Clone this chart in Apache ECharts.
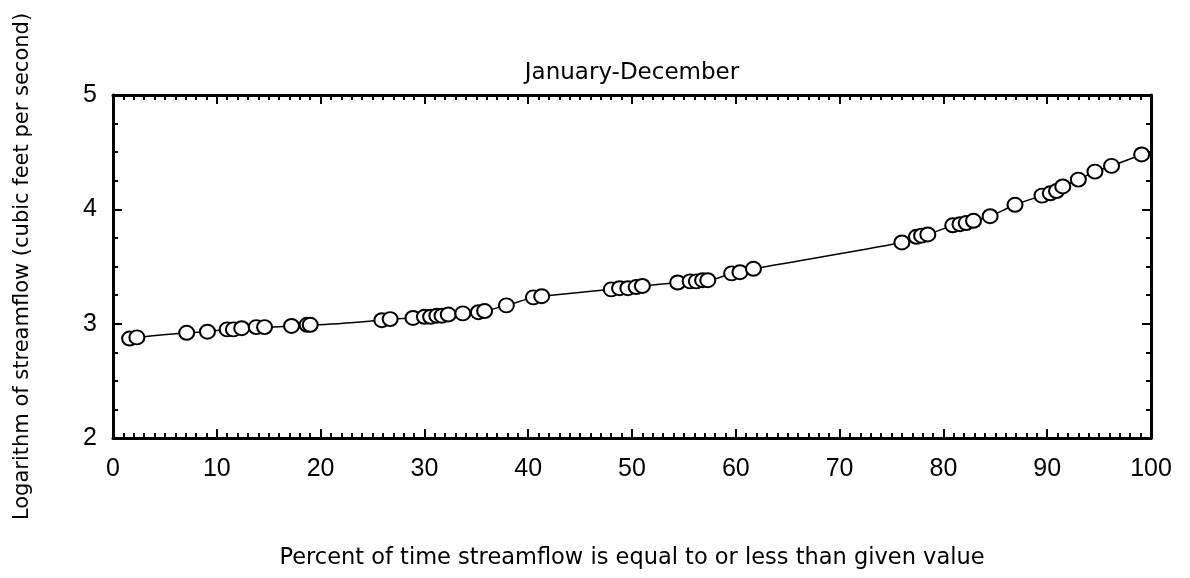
<!DOCTYPE html>
<html>
<head>
<meta charset="utf-8">
<script src="https://cdn.jsdelivr.net/npm/echarts@6/dist/echarts.min.js"></script>
<style>
html,body{margin:0;padding:0;background:#fff;}
#chart{width:1190px;height:578px;}
</style>
</head>
<body>
<div id="chart"></div>
<script>
const titleText = "January-December";
const xAxisName = "Percent of time streamflow is equal to or less than given value";
const yAxisName = "Logarithm of streamflow (cubic feet per second)";

const percentValues = [1.6, 2.3, 7.1, 9.1, 11.0, 11.6, 12.4, 13.8, 14.6, 17.2, 18.7, 19.0,
  25.9, 26.7, 28.9, 30.0, 30.6, 31.2, 31.7, 32.3, 33.7, 35.2, 35.8, 37.9, 40.5, 41.3,
  48.0, 48.8, 49.6, 50.4, 51.0, 54.4, 55.6, 56.2, 56.8, 57.3, 59.6, 60.4, 61.7,
  76.0, 77.4, 77.9, 78.5, 80.9, 81.6, 82.2, 82.9, 84.5, 86.9,
  89.5, 90.3, 90.9, 91.5, 93.0, 94.6, 96.2, 99.1];
const logFlowValues = [2.87, 2.88, 2.92, 2.93, 2.95, 2.95, 2.96, 2.97, 2.97, 2.98, 2.99, 2.99,
  3.03, 3.04, 3.05, 3.06, 3.06, 3.07, 3.07, 3.08, 3.09, 3.10, 3.11, 3.16, 3.23, 3.24,
  3.30, 3.31, 3.31, 3.32, 3.33, 3.36, 3.37, 3.37, 3.38, 3.38, 3.44, 3.45, 3.48,
  3.71, 3.76, 3.77, 3.78, 3.86, 3.87, 3.88, 3.90, 3.94, 4.04,
  4.12, 4.14, 4.16, 4.20, 4.26, 4.33, 4.38, 4.48];

const points = percentValues.map((p, i) => [p, logFlowValues[i]]);

const font = "'DejaVu Sans', 'Liberation Sans', Arial, sans-serif";
const numFont = "'Liberation Sans', Arial, sans-serif";
const axisLine = { show: true, onZero: false, lineStyle: { color: '#000', width: 3 } };
const axisTick = { show: true, inside: true, length: 9, lineStyle: { color: '#000', width: 2 } };

function xAx(pos, labels) {
  return {
    type: 'value', position: pos, min: 0, max: 100, interval: 10,
    axisLine, axisTick,
    minorTick: { show: true, splitNumber: 10, length: 5, lineStyle: { color: '#000', width: 2 } },
    splitLine: { show: false }, minorSplitLine: { show: false },
    axisLabel: { show: labels, color: '#000', fontSize: 25, fontFamily: numFont, margin: 19 },
    name: labels ? xAxisName : '', nameLocation: 'middle', nameGap: 109,
    nameTextStyle: { color: '#000', fontSize: 22.5, fontFamily: font }
  };
}
function yAx(pos, labels) {
  return {
    type: 'value', position: pos, min: 2, max: 5, interval: 1,
    axisLine, axisTick,
    minorTick: { show: true, splitNumber: 4, length: 5, lineStyle: { color: '#000', width: 2 } },
    splitLine: { show: false }, minorSplitLine: { show: false },
    axisLabel: { show: labels, color: '#000', fontSize: 25, fontFamily: numFont, margin: 16 },
    name: labels ? yAxisName : '', nameLocation: 'middle', nameGap: 80,
    nameTextStyle: { color: '#000', fontSize: 21, fontFamily: font }
  };
}

const chart = echarts.init(document.getElementById('chart'), null, { renderer: 'canvas' });
chart.setOption({
  animation: false,
  backgroundColor: '#fff',
  title: {
    text: titleText, left: 627, top: 57, textAlign: 'center',
    textStyle: { color: '#000', fontSize: 23, fontWeight: 'normal', fontFamily: font }
  },
  grid: { left: 113, right: 39, top: 95, bottom: 140 },
  xAxis: [xAx('bottom', true), xAx('top', false)],
  yAxis: [yAx('left', true), yAx('right', false)],
  series: [{
    type: 'line',
    data: points,
    smooth: 0.3,
    symbol: 'emptyCircle',
    symbolSize: [15, 14],
    showAllSymbol: true,
    lineStyle: { color: '#000', width: 1.5 },
    itemStyle: { color: '#000', borderColor: '#000', borderWidth: 3 }
  }]
});
</script>
</body>
</html>
